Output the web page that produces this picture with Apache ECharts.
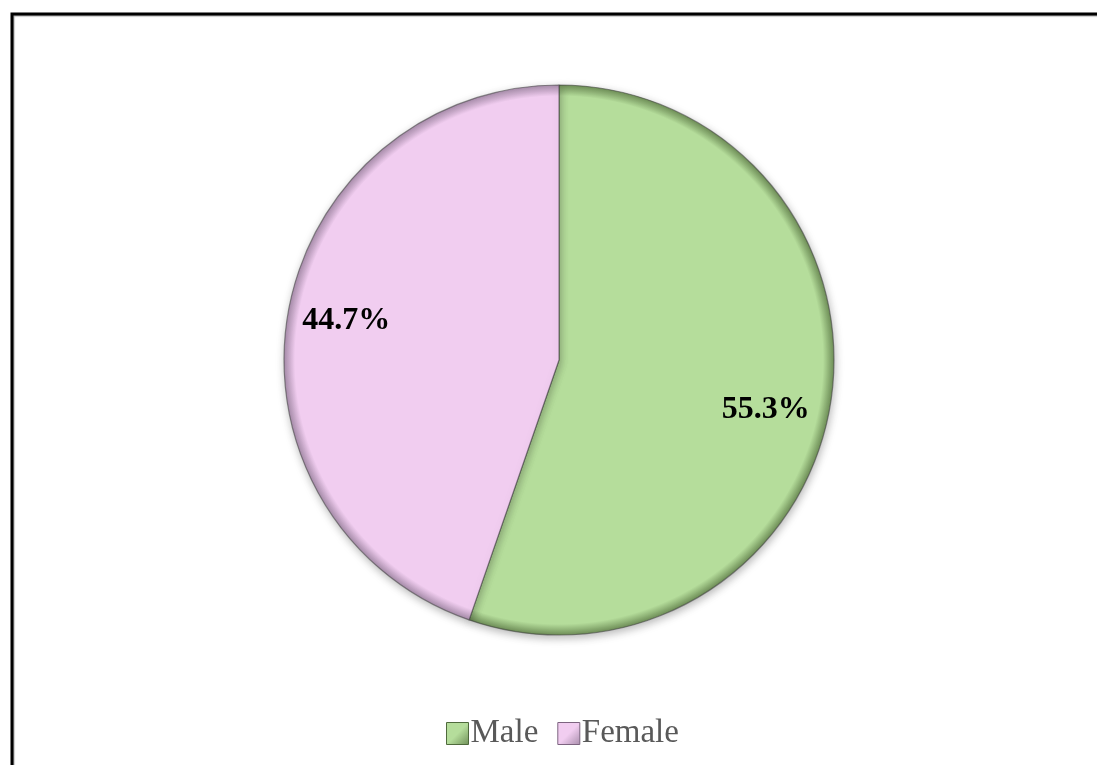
<!DOCTYPE html>
<html>
<head>
<meta charset="utf-8">
<style>
  html, body { margin: 0; padding: 0; background: #ffffff; }
  #chart { width: 1097px; height: 765px; }
</style>
<script src="https://cdn.jsdelivr.net/npm/echarts@6/dist/echarts.min.js"></script>
</head>
<body>
<div id="chart"></div>
<script>
// Gender split of respondents
var categories = ['Male', 'Female'];
var shares = [55.3, 44.7];
var baseColors = ['#b5dd9b', '#f1cdf0'];
var rimColors = ['#6f8f58', '#a88dab'];
var legendEdge = ['#4f6a3c', '#7d6480'];

var cx = 559, cy = 360, R = 275;

// bevel-like darkening toward the rim
function rimGradient(i) {
  return {
    type: 'radial', x: cx, y: cy, r: R, global: true,
    colorStops: [
      { offset: 0, color: baseColors[i] },
      { offset: 0.96, color: baseColors[i] },
      { offset: 1, color: rimColors[i] }
    ]
  };
}

var fullData = categories.map(function (name, i) {
  return { name: name, value: shares[i], itemStyle: { color: rimGradient(i) } };
});
var labelData = categories.map(function (name, i) {
  return { name: name, value: shares[i] };
});
// small nudges for the inside labels, per slice
var labelNudge = [[-9, 13], [3, -3]];

var chart = echarts.init(document.getElementById('chart'), null, { renderer: 'canvas' });
chart.setOption({
  animation: false,
  backgroundColor: '#ffffff',
  graphic: [
    {
      type: 'polyline',
      shape: { points: [[12, 765], [12, 14], [1097, 14]] },
      style: { stroke: '#000000', lineWidth: 3, fill: null,
               shadowColor: 'rgba(0,0,0,0.35)', shadowBlur: 1, shadowOffsetX: 1, shadowOffsetY: 1 }
    }
  ],
  legend: {
    bottom: 15,
    left: 446,
    itemWidth: 22,
    itemHeight: 22,
    itemGap: 19,
    icon: 'rect',
    padding: 0,
    textStyle: { fontFamily: 'Liberation Serif', fontSize: 33, color: '#595959', padding: [0, 0, 0, -3] },
    data: categories.map(function (name, i) {
      return {
        name: name,
        itemStyle: {
          color: {
            type: 'linear', x: 0, y: 0, x2: 1, y2: 1,
            colorStops: [
              { offset: 0, color: baseColors[i] },
              { offset: 0.5, color: baseColors[i] },
              { offset: 1, color: rimColors[i] }
            ]
          },
          borderColor: legendEdge[i],
          borderWidth: 1
        }
      };
    })
  },
  series: [
    {
      type: 'pie',
      center: [cx, cy],
      radius: [0, R],
      startAngle: 90,
      clockwise: true,
      silent: true,
      label: { show: false },
      labelLine: { show: false },
      itemStyle: {
        borderColor: 'rgba(60,60,60,0.55)',
        borderWidth: 1.2,
        shadowColor: 'rgba(0,0,0,0.28)',
        shadowBlur: 8,
        shadowOffsetX: 1,
        shadowOffsetY: 3
      },
      data: fullData
    },
    {
      type: 'pie',
      center: [cx, cy],
      radius: [R * 0.57, R],
      startAngle: 90,
      clockwise: true,
      silent: true,
      legendHoverLink: false,
      itemStyle: { color: 'rgba(0,0,0,0)', borderWidth: 0 },
      label: {
        show: true,
        position: 'inside',
        formatter: function (p) { return p.value.toFixed(1) + '%'; },
        fontFamily: 'Liberation Serif',
        fontWeight: 'bold',
        fontSize: 32,
        color: '#000000'
      },
      labelLayout: function (p) {
        var n = labelNudge[p.dataIndex];
        return { dx: n[0], dy: n[1] };
      },
      labelLine: { show: false },
      data: labelData
    }
  ]
});
</script>
</body>
</html>
